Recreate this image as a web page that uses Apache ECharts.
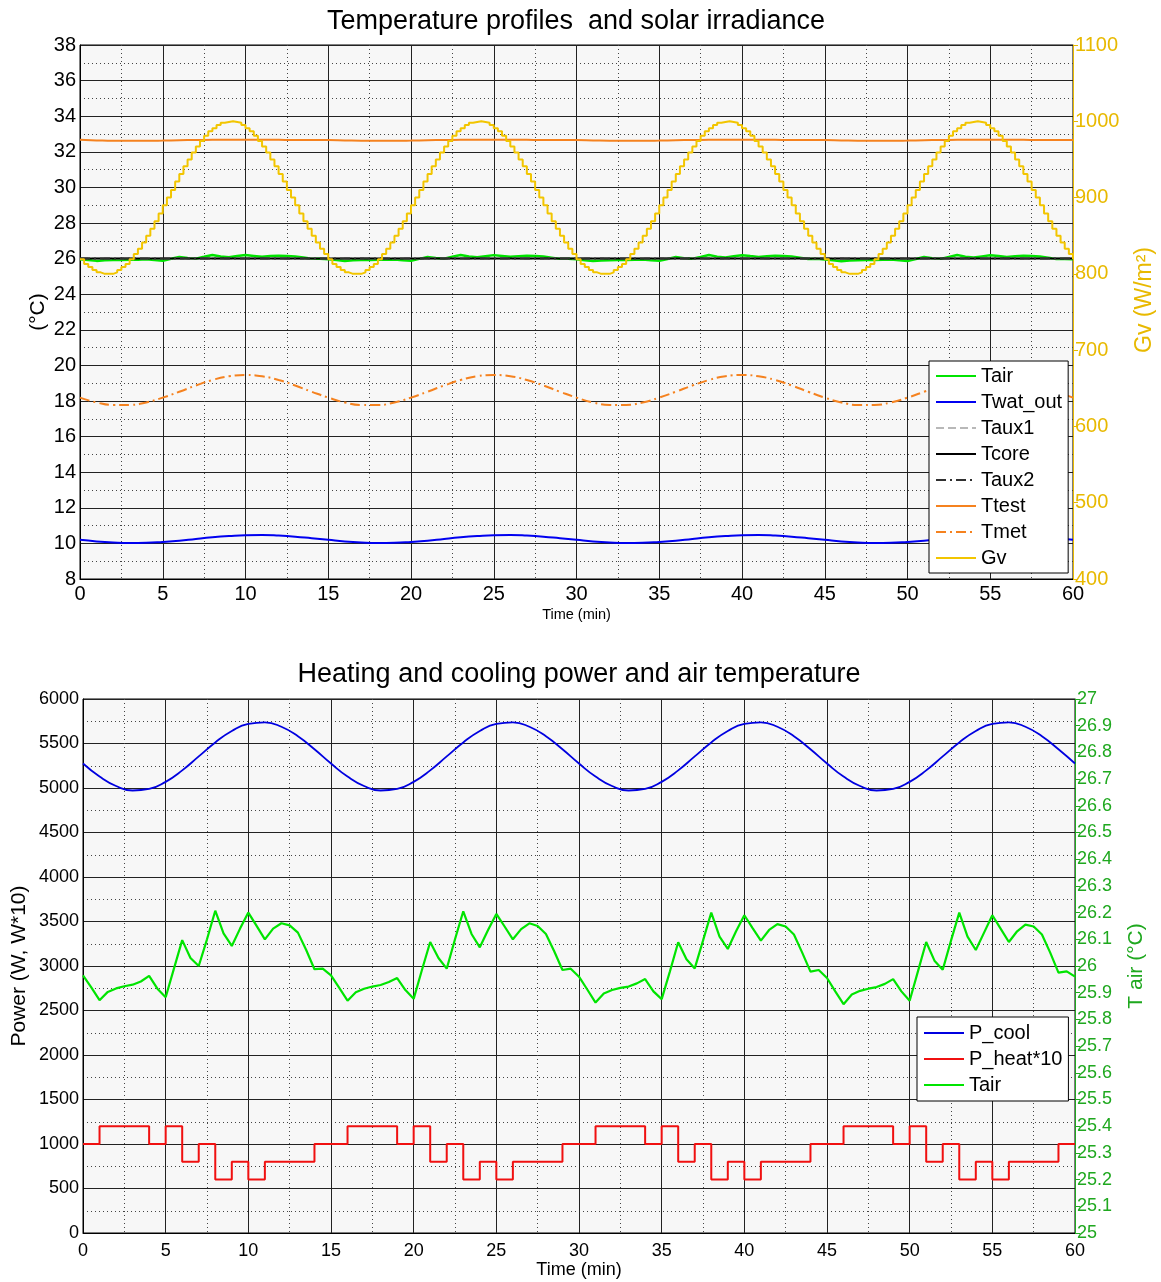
<!DOCTYPE html>
<html>
<head>
<meta charset="utf-8">
<script src="https://cdn.jsdelivr.net/npm/echarts@6/dist/echarts.min.js"></script>
<style>
html,body{margin:0;padding:0;background:#fff;}
#chart{width:1161px;height:1282px;}
</style>
</head>
<body>
<div id="chart"></div>
<script>
// ---------- DATA ----------
const xTicks = [0,5,10,15,20,25,30,35,40,45,50,55,60];

// Top chart: temperatures (°C), sampled every 1 min unless noted
const twatOut = [10.20,10.11,10.05,10.02,10.03,10.08,10.15,10.25,10.34,10.41,10.46,10.47,10.44,10.38,10.29,
                 10.20,10.11,10.05,10.02,10.03,10.08,10.15,10.25,10.34,10.41,10.46,10.47,10.44,10.38,10.29,
                 10.20,10.11,10.05,10.02,10.03,10.08,10.15,10.25,10.34,10.41,10.46,10.47,10.44,10.38,10.29,
                 10.20,10.11,10.05,10.02,10.03,10.08,10.15,10.25,10.34,10.41,10.46,10.47,10.44,10.38,10.29,
                 10.20];
const tmet = [18.19,17.92,17.78,17.78,17.92,18.19,18.52,18.87,19.18,19.39,19.46,19.39,19.18,18.87,18.52,
              18.19,17.92,17.78,17.78,17.92,18.19,18.52,18.87,19.18,19.39,19.46,19.39,19.18,18.87,18.52,
              18.19,17.92,17.78,17.78,17.92,18.19,18.52,18.87,19.18,19.39,19.46,19.39,19.18,18.87,18.52,
              18.19,17.92,17.78,17.78,17.92,18.19,18.52,18.87,19.18,19.39,19.46,19.39,19.18,18.87,18.52,
              18.19];
const ttest = [32.67,32.64,32.62,32.62,32.62,32.63,32.65,32.66,32.67,32.68,32.68,32.68,32.67,32.66,32.66,
               32.66,32.64,32.62,32.62,32.62,32.63,32.65,32.66,32.67,32.68,32.68,32.68,32.67,32.66,32.66,
               32.66,32.64,32.62,32.62,32.62,32.63,32.65,32.66,32.67,32.68,32.68,32.68,32.67,32.66,32.66,
               32.66,32.64,32.62,32.62,32.62,32.63,32.65,32.66,32.67,32.68,32.68,32.68,32.67,32.66,32.66,
               32.66];
// constant lines, every 5 min
const taux1 = [26.0,26.0,26.0,26.0,26.0,26.0,26.0,26.0,26.0,26.0,26.0,26.0,26.0];
const tcore = [26.0,26.0,26.0,26.0,26.0,26.0,26.0,26.0,26.0,26.0,26.0,26.0,26.0];
const taux2 = [26.0,26.0,26.0,26.0,26.0,26.0,26.0,26.0,26.0,26.0,26.0,26.0,26.0];

// Air temperature (°C), every 0.5 min
const tairC = [
 25.965,25.92,25.872,25.903,25.916,25.924,25.930,25.942,25.963,25.915,25.883,25.99,26.097,26.03,26.0,
 26.1,26.207,26.122,26.075,26.14,26.2,26.15,26.1,26.14,26.16,26.152,26.125,26.06,25.988,25.99,
 25.965,25.918,25.870,25.902,25.915,25.923,25.929,25.94,25.955,25.91,25.877,25.985,26.09,26.03,25.99,
 26.1,26.205,26.12,26.07,26.135,26.195,26.148,26.1,26.138,26.16,26.15,26.12,26.055,25.985,25.99,
 25.96,25.912,25.863,25.897,25.91,25.918,25.923,25.935,25.951,25.905,25.876,25.98,26.089,26.025,25.991,
 26.095,26.2,26.11,26.064,26.13,26.19,26.142,26.095,26.135,26.157,26.148,26.118,26.05,25.979,25.985,
 25.955,25.905,25.857,25.893,25.907,25.915,25.921,25.933,25.951,25.905,25.87,25.98,26.09,26.02,25.986,
 26.095,26.2,26.11,26.06,26.125,26.19,26.14,26.09,26.13,26.155,26.148,26.118,26.05,25.975,25.98,
 25.96];

// Solar irradiance Gv (W/m2), every 0.25 min (stairs)
const gv = [
 819,813,809,805,802,800,800,800,802,805,809,813,819,826,833,841,850,859,869,879,890,900,910,921,931,941,950,959,967,974,
 981,987,991,995,998,999,1000,999,998,995,991,987,981,974,967,959,950,941,931,921,910,900,890,879,869,859,850,841,833,826,
 819,813,809,805,802,800,800,800,802,805,809,813,819,826,833,841,850,859,869,879,890,900,910,921,931,941,950,959,967,974,
 981,987,991,995,998,999,1000,999,998,995,991,987,981,974,967,959,950,941,931,921,910,900,890,879,869,859,850,841,833,826,
 819,813,809,805,802,800,800,800,802,805,809,813,819,826,833,841,850,859,869,879,890,900,910,921,931,941,950,959,967,974,
 981,987,991,995,998,999,1000,999,998,995,991,987,981,974,967,959,950,941,931,921,910,900,890,879,869,859,850,841,833,826,
 819,813,809,805,802,800,800,800,802,805,809,813,819,826,833,841,850,859,869,879,890,900,910,921,931,941,950,959,967,974,
 981,987,991,995,998,999,1000,999,998,995,991,987,981,974,967,959,950,941,931,921,910,900,890,879,869,859,850,841,833,826,
 819];

// Bottom chart: powers (W), every 1 min
const pCool = [5275,5129,5022,4972,4989,5069,5198,5355,5512,5641,5721,5738,5688,5581,5435,
               5275,5129,5022,4972,4989,5069,5198,5355,5512,5641,5721,5738,5688,5581,5435,
               5275,5129,5022,4972,4989,5069,5198,5355,5512,5641,5721,5738,5688,5581,5435,
               5275,5129,5022,4972,4989,5069,5198,5355,5512,5641,5721,5738,5688,5581,5435,
               5275];
const pHeat10 = [1000,1200,1200,1200,1000,1200,800,1000,600,800,600,800,800,800,1000,
                 1000,1200,1200,1200,1000,1200,800,1000,600,800,600,800,800,800,1000,
                 1000,1200,1200,1200,1000,1200,800,1000,600,800,600,800,800,800,1000,
                 1000,1200,1200,1200,1000,1200,800,1000,600,800,600,800,800,800,1000,
                 1000];

// ---------- HELPERS ----------
function timeGrid(step, n){ const a=[]; for(let i=0;i<n;i++) a.push(+(i*step).toFixed(4)); return a; }
function pairs(ts, vs){ return vs.map((v,i)=>[ts[i], v]); }
const t1 = timeGrid(1, twatOut.length);
const t5 = timeGrid(5, tcore.length);
const tHalf = timeGrid(0.5, tairC.length);
const tQuarter = timeGrid(0.25, gv.length);

const FONT = "'Liberation Sans', Arial, sans-serif";
const C = {
  tair:'#00e400', twat:'#0000f0', taux1:'#b8b8b8', tcore:'#000000', taux2:'#303030',
  orange:'#f5821f', gv:'#f2c500', gvAxis:'#e8b900', pcool:'#0000e0', pheat:'#f01010', tairAxis:'#1fa81f'
};

function xAxisCfg(gridIndex, nameSize, nameGap, labelSize, labelMargin){
  return {
    gridIndex, type:'value', min:0, max:60, interval:5,
    name:'Time (min)', nameLocation:'middle', nameGap, nameMoveOverlap:false,
    nameTextStyle:{fontSize:nameSize, color:'#000', fontFamily:FONT},
    axisLine:{show:true, onZero:false, lineStyle:{color:'#000', width:1}},
    axisTick:{show:false},
    axisLabel:{fontSize:labelSize, color:'#000', fontFamily:FONT, margin:labelMargin},
    splitLine:{show:true, lineStyle:{color:'#222', width:1}},
    minorTick:{show:false, splitNumber:2},
    minorSplitLine:{show:true, lineStyle:{color:'#444', width:1, type:[1,3]}}
  };
}
function leftYCfg(gridIndex, min, max, interval, name, nameGap, labelSize){
  return {
    gridIndex, type:'value', min, max, interval, position:'left',
    name, nameLocation:'middle', nameGap, nameRotate:90, nameMoveOverlap:false,
    nameTextStyle:{fontSize:21, color:'#000', fontFamily:FONT},
    axisLine:{show:true, lineStyle:{color:'#000', width:1}},
    axisTick:{show:false},
    axisLabel:{fontSize:labelSize, color:'#000', fontFamily:FONT, margin:4, formatter:v => String(v)},
    splitLine:{show:true, lineStyle:{color:'#222', width:1}},
    minorTick:{show:false, splitNumber:2},
    minorSplitLine:{show:true, lineStyle:{color:'#444', width:1, type:[1,3]}}
  };
}
function rightYCfg(gridIndex, min, max, interval, name, nameGap, nameStyle, color, labelSize, fmt){
  return {
    gridIndex, type:'value', min, max, interval, position:'right',
    name, nameLocation:'middle', nameGap, nameRotate:90, nameMoveOverlap:false,
    nameTextStyle:Object.assign({color, fontFamily:FONT}, nameStyle),
    axisLine:{show:true, lineStyle:{color, width:1}},
    axisTick:{show:true, inside:false, length:5, lineStyle:{color}},
    axisLabel:{fontSize:labelSize, color, fontFamily:FONT, margin:2, formatter:fmt},
    splitLine:{show:false}
  };
}
function line(name, xi, yi, data, color, width, type, extra){
  return Object.assign({
    name, type:'line', xAxisIndex:xi, yAxisIndex:yi, data,
    symbol:'none', showSymbol:false, smooth:false, animation:false,
    lineStyle:{color, width, type:type||'solid'}, itemStyle:{color}
  }, extra||{});
}

const legendCommon = {
  orient:'vertical', itemWidth:40, itemHeight:14, itemGap:6,
  backgroundColor:'#ffffff', borderColor:'#000', borderWidth:1, borderRadius:0,
  itemStyle:{opacity:0, borderWidth:0},
  textStyle:{fontSize:20, color:'#000', fontFamily:FONT}
};

const option = {
  animation:false,
  backgroundColor:'#ffffff',
  textStyle:{fontFamily:FONT},
  title:[
    {text:'Temperature profiles  and solar irradiance', left:576, top:8, textAlign:'center', padding:0,
     textStyle:{fontSize:27, fontWeight:'normal', color:'#000', fontFamily:FONT}},
    {text:'Heating and cooling power and air temperature', left:579, top:661, textAlign:'center', padding:0,
     textStyle:{fontSize:27, fontWeight:'normal', color:'#000', fontFamily:FONT}}
  ],
  grid:[
    {left:80, top:45, width:993, height:534, show:true, backgroundColor:'#f7f7f7', borderColor:'#000', borderWidth:1, containLabel:false, outerBoundsMode:'none'},
    {left:83, top:699, width:992, height:534, show:true, backgroundColor:'#f7f7f7', borderColor:'#000', borderWidth:1, containLabel:false, outerBoundsMode:'none'}
  ],
  legend:[
    Object.assign({}, legendCommon, {left:929, top:361, padding:[5,6,5,6],
     data:['Tair','Twat_out','Taux1','Tcore','Taux2','Ttest','Tmet','Gv']}),
    Object.assign({}, legendCommon, {left:917, top:1017, padding:[6,6,6,6],
     data:['P_cool','P_heat*10','Tair']})
  ],
  xAxis:[ xAxisCfg(0, 14.5, 28, 20, 5), xAxisCfg(1, 18, 28, 18, 9) ],
  yAxis:[
    leftYCfg(0, 8, 38, 2, '(°C)', 31, 20),
    rightYCfg(0, 400, 1100, 100, 'Gv (W/m²)', 60, {fontSize:23, padding:[0,0,0,24]}, C.gvAxis, 20, v => String(v)),
    leftYCfg(1, 0, 6000, 500, 'Power (W, W*10)', 53, 18),
    rightYCfg(1, 25, 27, 0.1, 'T air (°C)', 51, {fontSize:21}, C.tairAxis, 18, v => String(+v.toFixed(1)))
  ],
  series:[
    // top chart
    line('Tair', 0, 0, pairs(tHalf, tairC), C.tair, 2.5),
    line('Twat_out', 0, 0, pairs(t1, twatOut), C.twat, 2, 'solid', {smooth:true}),
    line('Taux1', 0, 0, pairs(t5, taux1), C.taux1, 2, 'dashed'),
    line('Tcore', 0, 0, pairs(t5, tcore), C.tcore, 2),
    line('Taux2', 0, 0, pairs(t5, taux2), C.taux2, 2, [10,4,2,4]),
    line('Ttest', 0, 0, pairs(t1, ttest), C.orange, 2, 'solid', {smooth:true}),
    line('Tmet', 0, 0, pairs(t1, tmet), C.orange, 2, [10,4,2,4], {smooth:true}),
    line('Gv', 0, 1, pairs(tQuarter, gv), C.gv, 2, 'solid', {step:'end'}),
    // bottom chart
    line('P_cool', 1, 2, pairs(t1, pCool), C.pcool, 1.8, 'solid', {smooth:true}),
    line('P_heat*10', 1, 2, pairs(t1, pHeat10), C.pheat, 2, 'solid', {step:'end'}),
    line('Tair', 1, 3, pairs(tHalf, tairC), C.tair, 2.2)
  ]
};

const chart = echarts.init(document.getElementById('chart'), null, {renderer:'canvas'});
chart.setOption(option);
</script>
</body>
</html>
